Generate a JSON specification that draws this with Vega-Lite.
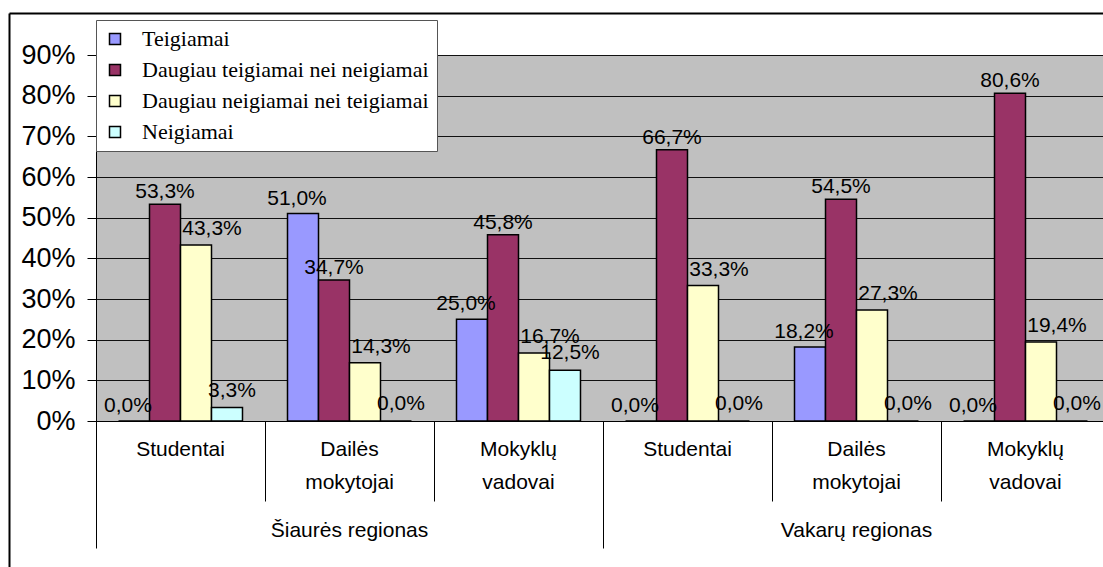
{
  "$schema": "https://vega.github.io/schema/vega-lite/v6.json",
  "width": 1014,
  "height": 366,
  "autosize": "none",
  "padding": {"left": 96, "top": 55, "right": 0, "bottom": 146},
  "background": "white",
  "config": {
    "locale": {"number": {"decimal": ",", "thousands": " ", "grouping": [3], "currency": ["", ""]}},
    "view": {"fill": "#C0C0C0", "stroke": "#808080", "strokeWidth": 1},
    "font": "Liberation Sans"
  },
  "data": {
    "values": [
      {"region": "Šiaurės regionas", "group": "Studentai", "series": "Teigiamai", "value": 0},
      {"region": "Šiaurės regionas", "group": "Studentai", "series": "Daugiau teigiamai nei neigiamai", "value": 0.533},
      {"region": "Šiaurės regionas", "group": "Studentai", "series": "Daugiau neigiamai nei teigiamai", "value": 0.433},
      {"region": "Šiaurės regionas", "group": "Studentai", "series": "Neigiamai", "value": 0.033},
      {"region": "Šiaurės regionas", "group": "Dailės mokytojai", "series": "Teigiamai", "value": 0.51},
      {"region": "Šiaurės regionas", "group": "Dailės mokytojai", "series": "Daugiau teigiamai nei neigiamai", "value": 0.347},
      {"region": "Šiaurės regionas", "group": "Dailės mokytojai", "series": "Daugiau neigiamai nei teigiamai", "value": 0.143},
      {"region": "Šiaurės regionas", "group": "Dailės mokytojai", "series": "Neigiamai", "value": 0},
      {"region": "Šiaurės regionas", "group": "Mokyklų vadovai", "series": "Teigiamai", "value": 0.25},
      {"region": "Šiaurės regionas", "group": "Mokyklų vadovai", "series": "Daugiau teigiamai nei neigiamai", "value": 0.458},
      {"region": "Šiaurės regionas", "group": "Mokyklų vadovai", "series": "Daugiau neigiamai nei teigiamai", "value": 0.167},
      {"region": "Šiaurės regionas", "group": "Mokyklų vadovai", "series": "Neigiamai", "value": 0.125},
      {"region": "Vakarų regionas", "group": "Studentai", "series": "Teigiamai", "value": 0},
      {"region": "Vakarų regionas", "group": "Studentai", "series": "Daugiau teigiamai nei neigiamai", "value": 0.667},
      {"region": "Vakarų regionas", "group": "Studentai", "series": "Daugiau neigiamai nei teigiamai", "value": 0.333},
      {"region": "Vakarų regionas", "group": "Studentai", "series": "Neigiamai", "value": 0},
      {"region": "Vakarų regionas", "group": "Dailės mokytojai", "series": "Teigiamai", "value": 0.182},
      {"region": "Vakarų regionas", "group": "Dailės mokytojai", "series": "Daugiau teigiamai nei neigiamai", "value": 0.545},
      {"region": "Vakarų regionas", "group": "Dailės mokytojai", "series": "Daugiau neigiamai nei teigiamai", "value": 0.273},
      {"region": "Vakarų regionas", "group": "Dailės mokytojai", "series": "Neigiamai", "value": 0},
      {"region": "Vakarų regionas", "group": "Mokyklų vadovai", "series": "Teigiamai", "value": 0},
      {"region": "Vakarų regionas", "group": "Mokyklų vadovai", "series": "Daugiau teigiamai nei neigiamai", "value": 0.806},
      {"region": "Vakarų regionas", "group": "Mokyklų vadovai", "series": "Daugiau neigiamai nei teigiamai", "value": 0.194},
      {"region": "Vakarų regionas", "group": "Mokyklų vadovai", "series": "Neigiamai", "value": 0}
    ]
  },
  "transform": [{"calculate": "datum.region + '|' + datum.group", "as": "cat"}],
  "layer": [
    {
      "encoding": {
        "x": {
          "field": "cat", "type": "nominal", "sort": null,
          "scale": {"type": "band", "paddingInner": 0, "paddingOuter": 0},
          "axis": {
            "title": null, "orient": "bottom", "bandPosition": 0, "tickSize": 80, "tickColor": "#000", "tickWidth": 1,
            "domainColor": "#000", "domainWidth": 1, "labelPadding": -63, "labelBaseline": "top",
            "labelFontSize": 21, "labelFont": "Liberation Sans", "labelColor": "#000", "labelAngle": 0,
            "labelLineHeight": 33, "labelLimit": 0, "grid": false,
            "labelExpr": "split(split(datum.value, '|')[1], ' ')"
          }
        },
        "xOffset": {
          "field": "series", "type": "nominal",
          "sort": ["Teigiamai", "Daugiau teigiamai nei neigiamai", "Daugiau neigiamai nei teigiamai", "Neigiamai"],
          "scale": {"paddingInner": 0, "paddingOuter": 0.726}
        },
        "y": {
          "field": "value", "type": "quantitative",
          "scale": {"domain": [0, 0.9], "nice": false, "zero": true},
          "axis": {
            "title": null, "orient": "left", "values": [0, 0.1, 0.2, 0.3, 0.4, 0.5, 0.6, 0.7, 0.8, 0.9], "format": ".0%",
            "tickSize": 9, "tickColor": "#000", "domainColor": "#000", "labelFontSize": 27,
            "labelFont": "Liberation Sans", "labelColor": "#000", "labelPadding": 12,
            "grid": true, "gridColor": "#111", "gridWidth": 1
          }
        }
      },
      "layer": [
        {
          "mark": {"type": "bar", "stroke": "#000", "strokeWidth": 1.5},
          "encoding": {
            "color": {
              "field": "series", "type": "nominal",
              "scale": {
                "domain": ["Teigiamai", "Daugiau teigiamai nei neigiamai", "Daugiau neigiamai nei teigiamai", "Neigiamai"],
                "range": ["#9999FF", "#993366", "#FFFFCC", "#CCFFFF"]
              },
              "legend": {
                "orient": "none", "legendX": 0, "legendY": -35, "title": null,
                "fillColor": "#FFFFFF", "strokeColor": "#555555", "padding": 8,
                "labelFont": "Liberation Serif", "labelFontSize": 22, "labelColor": "#000", "labelLimit": 0,
                "symbolType": "square", "symbolSize": 121, "symbolStrokeColor": "#000",
                "symbolStrokeWidth": 1.5, "symbolOpacity": 1, "rowPadding": 9, "labelOffset": 16
              }
            }
          }
        },
        {
          "transform": [{"filter": "datum.series === 'Teigiamai'"}],
          "mark": {"type": "text", "dx": -6, "dy": -9, "baseline": "alphabetic", "fontSize": 21, "font": "Liberation Sans", "color": "#000"},
          "encoding": {"text": {"field": "value", "type": "quantitative", "format": ".1%"}}
        },
        {
          "transform": [{"filter": "datum.series === 'Daugiau teigiamai nei neigiamai'"}],
          "mark": {"type": "text", "dx": 0, "dy": -6, "baseline": "alphabetic", "fontSize": 21, "font": "Liberation Sans", "color": "#000"},
          "encoding": {"text": {"field": "value", "type": "quantitative", "format": ".1%"}}
        },
        {
          "transform": [{"filter": "datum.series === 'Daugiau neigiamai nei teigiamai'"}],
          "mark": {"type": "text", "dx": 16, "dy": -10, "baseline": "alphabetic", "fontSize": 21, "font": "Liberation Sans", "color": "#000"},
          "encoding": {"text": {"field": "value", "type": "quantitative", "format": ".1%"}}
        },
        {
          "transform": [{"filter": "datum.series === 'Neigiamai'"}],
          "mark": {"type": "text", "dx": 5, "dy": -11, "baseline": "alphabetic", "fontSize": 21, "font": "Liberation Sans", "color": "#000"},
          "encoding": {"text": {"field": "value", "type": "quantitative", "format": ".1%"}}
        }
      ]
    },
    {
      "mark": {"type": "text", "text": ""},
      "encoding": {
        "x": {
          "field": "region", "type": "nominal", "sort": null,
          "scale": {"type": "band", "paddingInner": 0, "paddingOuter": 0},
          "axis": {
            "title": null, "orient": "bottom", "bandPosition": 0, "tickSize": 127, "tickColor": "#000", "tickWidth": 1,
            "domain": false, "labelPadding": -29, "labelBaseline": "top", "labelFontSize": 21,
            "labelFont": "Liberation Sans", "labelColor": "#000", "labelAngle": 0, "labelLimit": 0, "grid": false
          }
        }
      }
    },
    {
      "mark": {"type": "text", "text": ""},
      "encoding": {
        "x": {
          "field": "cat", "type": "nominal", "sort": null,
          "scale": {"type": "band", "paddingInner": 0, "paddingOuter": 0, "range": [-87, 1014]},
          "axis": {"orient": "top", "offset": 42, "title": null, "labels": false, "ticks": false, "grid": false, "domainColor": "#000", "domainWidth": 2}
        },
        "y": {
          "field": "value", "type": "quantitative",
          "scale": {"domain": [0, 0.9], "nice": false, "range": [512, -42]},
          "axis": {"orient": "left", "offset": 87, "title": null, "labels": false, "ticks": false, "grid": false, "domainColor": "#000", "domainWidth": 2}
        }
      }
    }
  ],
  "resolve": {"scale": {"x": "independent", "y": "independent"}, "axis": {"x": "independent", "y": "independent"}}
}
